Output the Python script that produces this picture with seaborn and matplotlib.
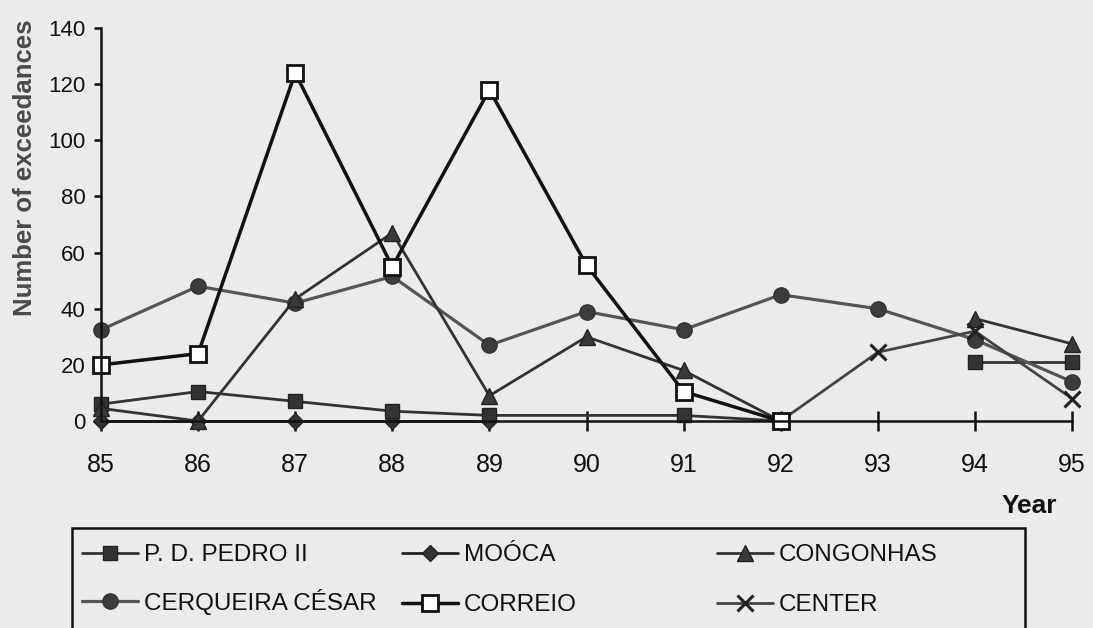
import pandas as pd
import seaborn as sns
import matplotlib.pyplot as plt
from matplotlib.lines import Line2D
from matplotlib.patches import Rectangle

sns.set_style('ticks')
plt.rcParams['font.family'] = ['Liberation Sans', 'DejaVu Sans']

# data (gaps where the original has no line)
pedro_years = [85, 86, 87, 88, 89, 91, 92, 94, 95]
pedro_vals = [6, 10.5, 7, 3.5, 2, 2, 0, 21, 21]
pedro_seg = [0, 0, 0, 0, 0, 0, 0, 1, 1]

mooca_years = [85, 86, 87, 88, 89]
mooca_vals = [0, 0, 0, 0, 0]
mooca_seg = [0, 0, 0, 0, 0]

congonhas_years = [85, 86, 87, 88, 89, 90, 91, 92, 94, 95]
congonhas_vals = [4.5, 0, 43.5, 67, 9, 30, 18, 0, 36.5, 27.5]
congonhas_seg = [0, 0, 0, 0, 0, 0, 0, 0, 1, 1]

cerqueira_years = [85, 86, 87, 88, 89, 90, 91, 92, 93, 94, 95]
cerqueira_vals = [32.5, 48, 42, 51.5, 27, 39, 32.5, 45, 40, 29, 14]
cerqueira_seg = [0] * 11

correio_years = [85, 86, 87, 88, 89, 90, 91, 92]
correio_vals = [20, 24, 124, 55, 118, 55.5, 10.5, 0]
correio_seg = [0] * 8

center_years = [92, 93, 94, 95]
center_vals = [0, 24.5, 32, 8]
center_seg = [0] * 4

stations = [
    # name, years, vals, seg, marker, size, line color, face, edge, lw, edge width
    ('MOÓCA', mooca_years, mooca_vals, mooca_seg, 'D', 8, '#222222', '#333333', '#222222', 2.0, 1.0),
    ('P. D. PEDRO II', pedro_years, pedro_vals, pedro_seg, 's', 10.5, '#333333', '#333333', '#222222', 2.0, 1.0),
    ('CERQUEIRA CÉSAR', cerqueira_years, cerqueira_vals, cerqueira_seg, 'o', 11, '#555555', '#3c3c3c', '#333333', 2.3, 1.0),
    ('CONGONHAS', congonhas_years, congonhas_vals, congonhas_seg, '^', 11, '#333333', '#3a3a3a', '#222222', 2.0, 1.0),
    ('CENTER', center_years, center_vals, center_seg, 'x', 11, '#444444', '#222222', '#222222', 2.0, 2.2),
    ('CORREIO', correio_years, correio_vals, correio_seg, 's', 12, '#111111', 'white', '#111111', 2.5, 2.0),
]

fig = plt.figure(figsize=(10.93, 6.28), dpi=100, facecolor='#ebebeb')
ax = fig.add_axes([0.0924, 0.3296, 0.8884, 0.6258])
ax.set_facecolor('none')

for name, yrs, vals, seg, mk, ms, lc, fc, ec, lw, mew in stations:
    df = pd.DataFrame({'year': yrs, 'value': vals, 'seg': seg})
    sns.lineplot(data=df, x='year', y='value', units='seg', estimator=None,
                 color=lc, linewidth=lw, marker=mk, markersize=ms,
                 markerfacecolor=fc, markeredgecolor=ec, markeredgewidth=mew,
                 clip_on=False, ax=ax, legend=False)

ax.set_xlim(85, 95)
ax.set_ylim(0, 140)
ax.set_xticks(range(85, 96))
ax.set_yticks(range(0, 141, 20))
sns.despine(ax=ax)
for side in ['left', 'bottom']:
    ax.spines[side].set_linewidth(1.8)
    ax.spines[side].set_color('#111111')
ax.tick_params(axis='x', direction='inout', length=14, width=1.8, labelsize=18, pad=16, colors='#111111')
ax.tick_params(axis='y', direction='out', length=5, width=1.8, labelsize=16, pad=6, colors='#111111')

ax.set_xlabel('')
ax.set_ylabel('Number of exceedances', fontsize=18.5, fontweight='bold', color='#4a4a4a')
ax.yaxis.set_label_coords(-0.066, 0.644)
fig.text(1057 / 1093, 1 - 506 / 628, 'Year', fontsize=19, fontweight='bold',
         ha='right', va='center', color='#111111')

# legend: one small legend per entry so the rows line up like the original
style = {s[0]: s for s in stations}


def handle(name):
    _, _, _, _, mk, ms, lc, fc, ec, lw, mew = style[name]
    return Line2D([], [], color=lc, linewidth=lw, marker=mk, markersize=ms,
                  markerfacecolor=fc, markeredgecolor=ec, markeredgewidth=mew)


entries = [
    ('P. D. PEDRO II', 82, 555), ('MOÓCA', 402, 555), ('CONGONHAS', 717, 555),
    ('CERQUEIRA CÉSAR', 82, 602), ('CORREIO', 402, 605), ('CENTER', 717, 605),
]
for name, x0, y0 in entries:
    fig.legend([handle(name)], [name], loc='center left',
               bbox_to_anchor=(x0 / 1093, 1 - y0 / 628),
               frameon=False, fontsize=17.5, handlelength=2.3,
               handletextpad=0.25, borderpad=0, borderaxespad=0,
               labelcolor='#111111')

fig.add_artist(Rectangle((72 / 1093, -0.05), (1025 - 72) / 1093, 0.05 + 1 - 528 / 628,
                         transform=fig.transFigure, fill=False,
                         edgecolor='#111111', linewidth=1.8))

plt.savefig('out.png', dpi=100, facecolor=fig.get_facecolor())
